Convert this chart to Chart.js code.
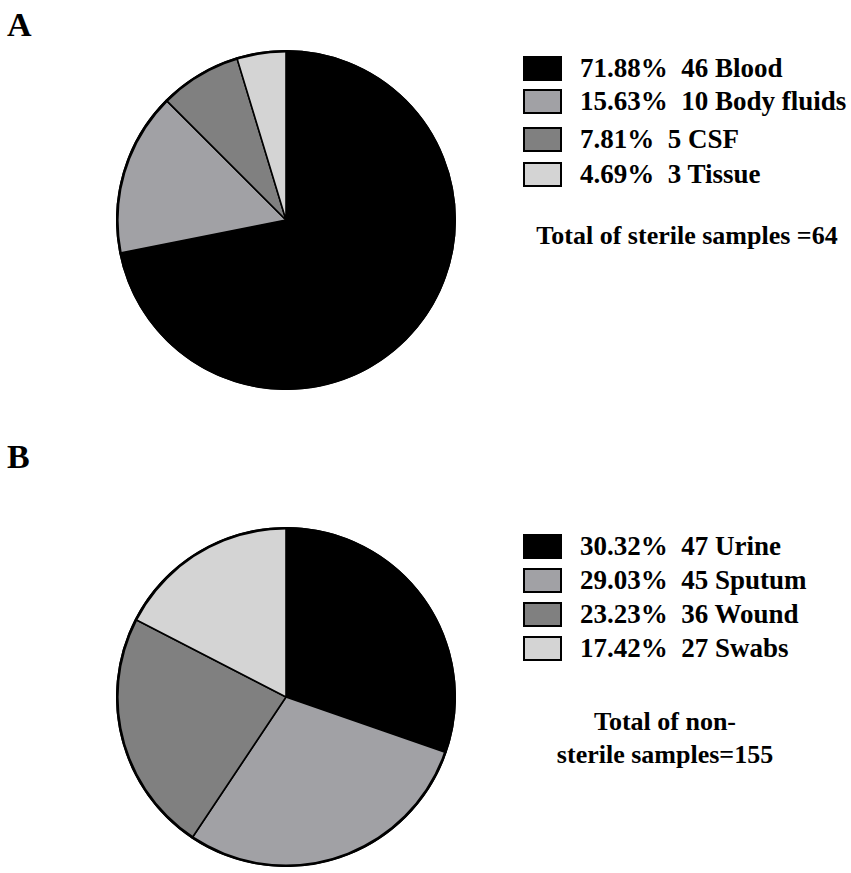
<!DOCTYPE html>
<html>
<head>
<meta charset="utf-8">
<script src="https://cdn.jsdelivr.net/npm/chart.js@4"></script>
<style>
html,body{margin:0;padding:0;background:#fff;width:851px;height:873px;overflow:hidden;}
body{position:relative;font-family:"Liberation Serif","Times New Roman",serif;font-weight:bold;color:#000;}
.panel{position:absolute;font-size:34px;line-height:1;}
canvas{position:absolute;}
.leg{position:absolute;left:523px;}
.row{position:absolute;left:0;height:25px;white-space:nowrap;}
.box{position:absolute;left:0;top:0;width:35px;height:21px;border:2px solid #000;}
.lbl{position:absolute;left:57px;top:50%;transform:translateY(-52%);font-size:27px;line-height:1;}
.total{position:absolute;font-size:26px;text-align:center;white-space:nowrap;line-height:33px;}
</style>
</head>
<body>
<div class="panel" style="left:7px;top:8px;">A</div>
<div class="panel" style="left:7px;top:440px;">B</div>
<canvas id="pieA" width="340" height="340" style="left:116px;top:50px;width:340px;height:340px;"></canvas>
<canvas id="pieB" width="340" height="340" style="left:116px;top:527px;width:340px;height:340px;"></canvas>
<div class="leg" id="legA"></div>
<div class="leg" id="legB"></div>
<div class="total" id="totA" style="left:527px;top:219px;width:320px;"></div>
<div class="total" id="totB" style="left:525px;top:705px;width:280px;"></div>
<script>
// Panel A: sterile samples
const catsA = ["Blood", "Body fluids", "CSF", "Tissue"];
const countsA = [46, 10, 5, 3];
const pctsA = ["71.88%", "15.63%", "7.81%", "4.69%"];
const totalA = "Total of sterile samples =64";

// Panel B: non-sterile samples
const catsB = ["Urine", "Sputum", "Wound", "Swabs"];
const countsB = [47, 45, 36, 27];
const pctsB = ["30.32%", "29.03%", "23.23%", "17.42%"];
const totalB = ["Total of non-", "sterile samples=155"];

const colors = ["#000000", "#a1a1a5", "#808080", "#d4d4d4"];

const outerRing = {
  id: "outerRing",
  afterDatasetsDraw(chart) {
    const arc = chart.getDatasetMeta(0).data[0];
    if (!arc) return;
    const ctx = chart.ctx;
    ctx.save();
    ctx.beginPath();
    ctx.arc(arc.x, arc.y, arc.outerRadius - 0.5, 0, Math.PI * 2);
    ctx.lineWidth = 2.6;
    ctx.strokeStyle = "#000";
    ctx.stroke();
    ctx.restore();
  }
};

function makePie(id, cats, counts) {
  new Chart(document.getElementById(id), {
    type: "pie",
    data: {
      labels: cats,
      datasets: [{
        data: counts,
        backgroundColor: colors,
        borderColor: "#000",
        borderWidth: 1.6
      }]
    },
    options: {
      responsive: false,
      animation: false,
      layout: { padding: 0 },
      plugins: { legend: { display: false }, tooltip: { enabled: false } }
    },
    plugins: [outerRing]
  });
}
makePie("pieA", catsA, countsA);
makePie("pieB", catsB, countsB);

function makeLegend(id, cats, counts, pcts, tops) {
  const el = document.getElementById(id);
  cats.forEach((c, i) => {
    const row = document.createElement("div");
    row.className = "row";
    row.style.top = tops[i] + "px";
    const box = document.createElement("div");
    box.className = "box";
    box.style.background = colors[i];
    const lbl = document.createElement("div");
    lbl.className = "lbl";
    lbl.textContent = pcts[i] + "\u00a0\u00a0" + counts[i] + " " + c;
    row.appendChild(box);
    row.appendChild(lbl);
    el.appendChild(row);
  });
}
makeLegend("legA", catsA, countsA, pctsA, [56, 89, 127, 162]);
makeLegend("legB", catsB, countsB, pctsB, [534, 568, 602, 636]);

document.getElementById("totA").textContent = totalA;
document.getElementById("totB").innerHTML = totalB.join("<br>");
</script>
</body>
</html>
